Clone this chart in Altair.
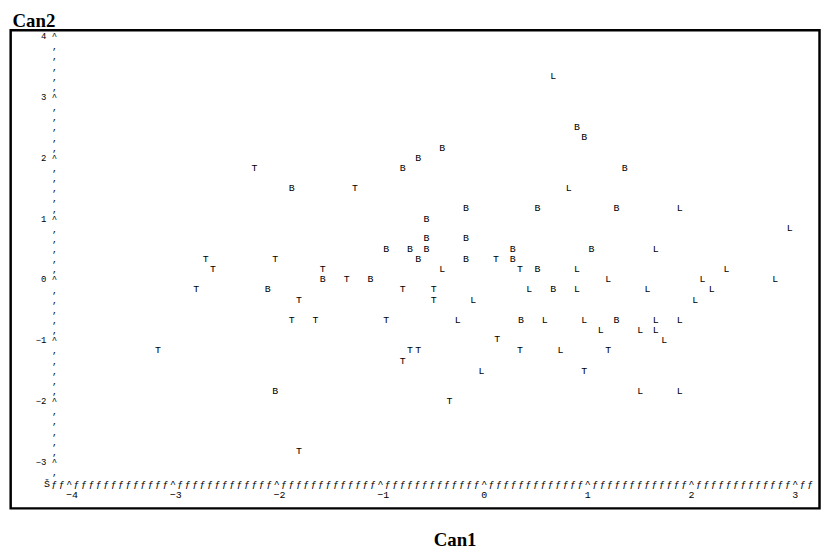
import altair as alt
import pandas as pd

# ---- data (plotting symbol = group) ----
groups = ["L", "B", "B", "B", "B", "T", "B", "B", "B", "T",
          "L", "B", "B", "B", "L", "B", "L", "B", "B", "B",
          "B", "B", "B", "B", "L", "T", "T", "B", "B", "T",
          "B", "T", "T", "L", "T", "B", "L", "L", "B", "T",
          "B", "L", "L", "L", "T", "B", "T", "T", "L", "B",
          "L", "L", "L", "T", "T", "L", "L", "T", "T", "T",
          "L", "B", "L", "L", "B", "L", "L", "L", "L", "L",
          "T", "L", "T", "T", "T", "T", "L", "T", "T", "L",
          "T", "B", "L", "L", "T", "T"]
can1 = [0.67, 0.90, 0.97, -0.40, -0.63, -2.21, -0.78, 1.36, -1.85, -1.24,
        0.82, -0.17, 0.52, 1.28, 1.89, -0.55, 2.95, -0.55, -0.17, -0.94,
        -0.71, -0.55, 0.28, 1.04, 1.66, -2.68, -2.01, -0.63, -0.17, 0.12,
        0.28, -2.61, -1.55, -0.40, 0.35, 0.52, 0.90, 2.34, -1.55, -1.32,
        -1.09, 1.20, 2.11, 2.81, -2.77, -2.08, -0.78, -0.48, 0.44, 0.67,
        0.90, 1.58, 2.20, -1.78, -0.48, -0.10, 2.04, -1.85, -1.62, -0.94,
        -0.25, 0.36, 0.59, 0.97, 1.28, 1.66, 1.89, 1.13, 1.51, 1.66,
        0.13, 1.74, -3.14, -0.71, -0.63, 0.35, 0.74, 1.20, -0.78, -0.02,
        0.97, -2.01, 1.51, 1.89, -0.33, -1.78]
can2 = [3.34, 2.49, 2.33, 2.15, 1.99, 1.83, 1.83, 1.83, 1.50, 1.50,
        1.50, 1.17, 1.17, 1.17, 1.17, 0.99, 0.83, 0.67, 0.67, 0.49,
        0.49, 0.49, 0.49, 0.49, 0.49, 0.33, 0.33, 0.33, 0.33, 0.33,
        0.33, 0.16, 0.16, 0.16, 0.16, 0.16, 0.16, 0.16, 0.00, 0.00,
        0.00, 0.00, 0.00, 0.00, -0.17, -0.17, -0.17, -0.17, -0.17, -0.17,
        -0.17, -0.17, -0.17, -0.34, -0.34, -0.34, -0.34, -0.67, -0.67, -0.67,
        -0.67, -0.67, -0.67, -0.67, -0.67, -0.67, -0.67, -0.84, -0.84, -0.84,
        -0.99, -1.00, -1.16, -1.16, -1.16, -1.16, -1.16, -1.16, -1.35, -1.51,
        -1.51, -1.84, -1.84, -1.84, -2.00, -2.83]

x_tick_labels = [-4, -3, -2, -1, 0, 1, 2, 3]
y_tick_labels = [-3, -2, -1, 0, 1, 2, 3, 4]

df = pd.DataFrame({"Can1": can1, "Can2": can2, "grp": groups})

# printer-plot character grid: 14 columns per x unit, 6 lines per y unit
x_axis_values = [round(-4 - 3 / 14 + k / 14, 6) for k in range(104)]
y_axis_values = [round(k / 6, 6) for k in range(-19, 25)]

MONO = "Liberation Mono"
SERIF = "Liberation Serif"

x_label_expr = (
    "datum.value < -4.19 ? 'Š' : "
    "(abs(datum.value - round(datum.value)) < 0.001 ? "
    "['^', (round(datum.value) < 0 ? '−' : ' ') + abs(round(datum.value))] : 'ƒ')"
)
y_label_expr = (
    "abs(datum.value - round(datum.value)) < 0.001 ? "
    "(round(datum.value) < 0 ? '−' : '') + abs(round(datum.value)) + '  ^' : '‚'"
)

x_axis = alt.Axis(
    values=x_axis_values, labelExpr=x_label_expr, labelAlign="left",
    labelOffset=-3, labelBaseline="top", labelLineHeight=12,
    labelFont=MONO, labelFontSize=10, labelColor="black", labelPadding=0,
    ticks=False, tickSize=0, domain=False, grid=False, offset=-30.5,
    labelFlush=False, labelOverlap=False, labelBound=False, labelAngle=0,
    title="Can1", titleFont=SERIF, titleFontSize=19, titleFontWeight="bold",
    titleX=448, titleY=68, titleAlign="center", titleBaseline="alphabetic",
    titleColor="black",
)
y_axis = alt.Axis(
    values=y_axis_values, labelExpr=y_label_expr, labelAlign="right",
    labelBaseline="middle", labelFont=MONO, labelFontSize=9,
    labelColor="black", labelPadding=0, ticks=False, tickSize=0,
    domain=False, grid=False, offset=-46.3, labelFlush=False,
    labelOverlap=False, labelBound=False,
    title="Can2", titleAngle=0, titleX=-45, titleY=-4, titleAlign="left",
    titleBaseline="alphabetic", titleFont=SERIF, titleFontSize=19,
    titleFontWeight="bold", titleColor="black",
)

chart = (
    alt.Chart(df)
    .mark_text(font=MONO, fontSize=10, align="center", baseline="middle",
               color="black")
    .encode(
        x=alt.X("Can1:Q", scale=alt.Scale(domain=[-4.559, 3.238], nice=False,
                                          zero=False), axis=x_axis),
        y=alt.Y("Can2:Q", scale=alt.Scale(domain=[-3.770, 4.088], nice=False,
                                          zero=False), axis=y_axis),
        text="grp:N",
    )
    .properties(
        width=816.3, height=482.5,
        autosize=alt.AutoSizeParams(type="none"),
        padding={"left": 2.7, "top": 20, "right": 1.5, "bottom": 40},
    )
    .configure_view(stroke="black", strokeWidth=2.5)
)

chart.save("out.html", embed_options={"renderer": "svg", "actions": False})
